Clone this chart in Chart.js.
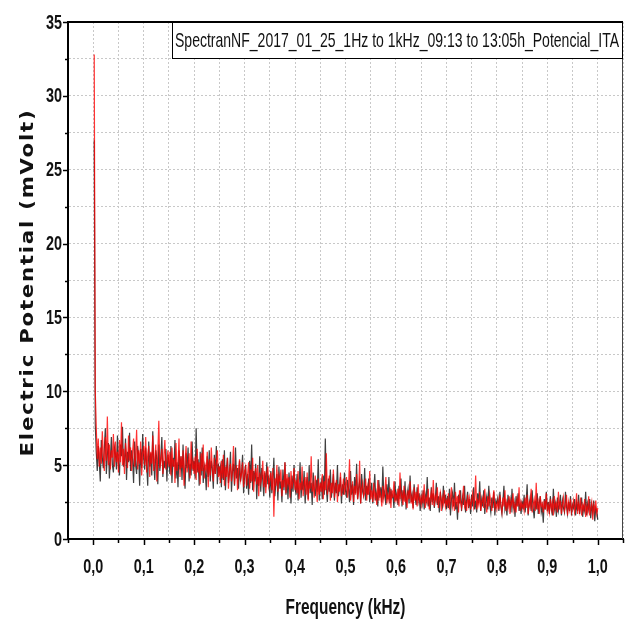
<!DOCTYPE html>
<html>
<head>
<meta charset="utf-8">
<script src="https://cdn.jsdelivr.net/npm/chart.js@4/dist/chart.umd.min.js"></script>
<style>
  body { margin: 0; background: #fff; }
</style>
</head>
<body>
<canvas id="spectrum-chart" width="628" height="624"></canvas>
<script>
// frequency grid of the spectrum: first bin and bin width, in kHz
const firstFreq = 0.002
const freqStep = 0.002

// red trace, mVolt (one row per 0.05 kHz)
const redValues = [
  32.8, 10.1, 7.6, 5.4, 6.8, 4.9, 6.2, 5.1, 7.3, 5.6, 4.6, 6.9, 5.3, 8.3, 5.0, 6.4, 4.7, 6.0, 5.5, 7.1, 4.9, 6.6, 5.2, 5.9, 4.5,
  6.7, 5.2, 7.9, 5.0, 6.1, 4.4, 6.5, 5.7, 4.8, 7.0, 5.3, 6.2, 4.6, 5.9, 6.8, 4.9, 5.5, 7.4, 4.7, 6.0, 5.1, 6.6, 4.3, 5.8, 6.3,
  5.0, 6.9, 4.5, 5.7, 6.3, 4.2, 5.9, 5.1, 7.0, 4.6, 5.5, 6.4, 3.9, 5.8, 8.0, 4.8, 5.3, 6.1, 4.4, 5.6, 6.7, 4.7, 5.2, 6.0, 4.9,
  5.9, 4.3, 6.2, 4.9, 5.4, 3.8, 6.5, 4.6, 5.1, 6.8, 4.2, 5.6, 4.8, 6.0, 3.6, 5.3, 6.3, 4.5, 5.0, 5.8, 4.1, 6.6, 4.7, 5.2, 4.4,
  5.6, 4.0, 6.1, 4.5, 5.2, 3.7, 5.8, 4.6, 6.4, 4.1, 5.0, 4.7, 5.9, 3.5, 5.4, 4.3, 6.2, 4.8, 3.9, 5.5, 4.4, 5.1, 6.0, 4.2, 4.9,
  3.8, 5.3, 4.1, 5.7, 3.6, 4.9, 4.2, 5.5, 3.4, 4.6, 5.1, 3.9, 4.8, 6.3, 3.7, 4.5, 5.0, 3.3, 4.7, 5.4, 4.0, 4.4, 5.2, 3.5, 4.6,
  4.9, 3.6, 4.4, 5.2, 3.4, 4.7, 3.9, 5.5, 3.2, 4.3, 4.8, 3.7, 5.0, 2.9, 4.5, 3.8, 4.2, 5.3, 3.5, 4.6, 3.1, 4.4, 4.9, 3.6, 4.0,
  4.5, 3.3, 4.8, 1.5, 4.1, 3.6, 5.0, 3.2, 4.3, 3.9, 4.7, 2.9, 4.0, 3.5, 5.2, 3.1, 4.4, 3.7, 4.2, 2.8, 4.6, 3.4, 3.9, 4.8, 3.3,
  4.0, 3.1, 4.6, 2.7, 3.8, 3.3, 4.9, 2.9, 3.6, 4.2, 3.0, 4.5, 2.6, 3.9, 3.4, 5.6, 3.2, 3.7, 2.8, 4.3, 3.5, 2.5, 4.1, 3.0, 3.8,
  3.2, 4.4, 2.7, 3.9, 3.3, 5.8, 3.0, 3.6, 4.3, 2.6, 3.8, 3.1, 4.7, 2.8, 3.5, 4.0, 2.5, 3.7, 3.2, 4.5, 2.9, 3.4, 4.1, 3.0, 3.6,
  4.2, 2.8, 3.5, 5.4, 2.6, 3.3, 3.9, 2.5, 3.6, 3.0, 4.4, 2.7, 3.2, 5.3, 2.4, 3.4, 3.8, 2.9, 3.1, 4.1, 2.6, 3.5, 3.0, 4.6, 2.7,
  3.3, 2.5, 3.8, 2.8, 3.1, 2.3, 4.0, 2.6, 3.4, 2.9, 2.2, 3.6, 2.7, 3.2, 4.2, 2.4, 3.0, 2.6, 3.5, 2.1, 3.3, 2.8, 3.9, 2.5, 3.0,
  2.6, 3.4, 2.2, 4.5, 2.8, 3.1, 2.3, 3.6, 2.5, 3.0, 2.1, 3.3, 2.7, 3.9, 2.4, 2.9, 2.0, 3.5, 2.6, 3.2, 2.2, 3.7, 2.5, 2.8, 2.3,
  3.0, 2.4, 3.7, 2.1, 2.8, 2.5, 3.4, 2.0, 2.7, 3.2, 2.3, 4.0, 2.2, 2.9, 2.6, 3.5, 2.1, 2.7, 3.1, 1.9, 2.8, 2.4, 3.3, 2.2, 2.6,
  2.3, 3.1, 2.0, 2.8, 3.5, 2.2, 2.6, 1.9, 3.2, 2.4, 2.9, 1.8, 3.3, 2.5, 2.1, 2.7, 3.6, 2.2, 2.5, 1.9, 3.0, 2.3, 2.8, 2.0, 2.6,
  3.1, 2.2, 2.7, 4.3, 2.0, 2.6, 2.3, 3.2, 1.9, 2.5, 2.8, 2.1, 3.4, 2.4, 1.8, 2.9, 2.2, 3.0, 2.5, 1.9, 2.7, 3.3, 2.1, 2.4, 2.0,
  2.6, 2.0, 3.0, 2.3, 1.8, 2.8, 2.2, 3.3, 1.9, 2.5, 2.1, 2.9, 1.7, 2.6, 2.3, 3.1, 2.0, 2.4, 1.8, 2.7, 2.2, 3.5, 1.9, 2.5, 2.1,
  2.4, 1.9, 2.8, 2.1, 3.0, 1.7, 2.5, 2.2, 3.4, 1.8, 2.3, 2.7, 1.9, 3.8, 2.0, 2.5, 1.7, 2.9, 2.2, 2.4, 1.8, 2.6, 2.0, 3.1, 1.9,
  2.3, 1.8, 2.7, 2.0, 2.5, 1.6, 2.9, 2.1, 2.4, 1.8, 3.2, 2.0, 2.6, 1.7, 2.3, 2.8, 1.9, 2.2, 3.0, 1.6, 2.5, 2.0, 2.7, 1.8, 2.2,
  2.6, 1.8, 2.2, 3.1, 1.7, 2.4, 1.9, 2.8, 1.6, 2.3, 2.0, 2.7, 1.5, 2.2, 1.8, 2.9, 1.6, 2.1, 2.5, 1.3, 2.3, 1.9, 2.6, 1.7, 2.1
]

// black trace, mVolt (one row per 0.05 kHz)
const blackValues = [
  27.0, 7.8, 5.9, 4.6, 6.3, 5.2, 3.9, 6.7, 5.5, 4.8, 6.1, 7.5, 4.4, 5.7, 6.5, 4.1, 5.4, 6.9, 5.0, 4.5, 6.2, 5.8, 4.7, 7.0, 5.1,
  4.3, 6.4, 5.6, 7.6, 4.9, 5.3, 6.8, 4.0, 5.9, 5.2, 7.2, 4.6, 6.0, 5.4, 3.8, 6.6, 5.0, 4.4, 6.3, 5.7, 3.6, 6.1, 4.8, 7.1, 5.5,
  4.7, 6.2, 5.0, 3.6, 6.6, 4.9, 5.8, 4.3, 7.3, 5.1, 4.0, 6.0, 5.4, 3.7, 6.4, 4.6, 5.6, 6.9, 4.2, 5.3, 4.8, 6.1, 3.9, 5.7, 5.2,
  4.4, 6.3, 3.8, 5.5, 4.9, 6.7, 4.1, 5.2, 3.5, 6.0, 4.7, 5.6, 4.0, 6.4, 4.5, 3.4, 5.8, 4.8, 6.2, 3.9, 5.1, 4.3, 6.6, 4.6, 5.3,
  4.1, 7.5, 4.5, 5.4, 3.6, 5.9, 4.3, 6.2, 3.8, 5.0, 4.6, 3.3, 5.6, 4.2, 6.0, 3.9, 5.3, 4.8, 3.4, 5.7, 4.4, 6.3, 3.7, 5.1, 4.5,
  4.9, 3.5, 5.4, 4.0, 6.0, 3.3, 4.7, 5.5, 3.8, 4.4, 5.9, 3.2, 4.6, 5.1, 3.6, 6.2, 4.1, 4.8, 3.4, 5.3, 3.9, 4.5, 5.7, 3.1, 4.3,
  5.0, 3.4, 4.4, 3.0, 5.3, 3.8, 6.4, 3.3, 4.6, 3.9, 5.1, 2.7, 4.2, 3.6, 5.6, 3.2, 4.8, 4.0, 2.9, 4.5, 3.5, 5.2, 3.7, 4.3, 2.8,
  4.6, 3.1, 4.0, 5.5, 2.9, 3.8, 4.4, 2.6, 4.9, 3.4, 3.9, 2.5, 4.7, 3.3, 5.2, 3.0, 4.1, 2.7, 4.5, 3.6, 2.4, 4.3, 3.2, 5.0, 3.5,
  3.0, 4.4, 2.6, 3.7, 5.2, 2.8, 3.9, 3.3, 4.6, 2.4, 3.6, 4.2, 2.7, 5.0, 3.1, 3.8, 2.3, 4.5, 3.4, 2.9, 4.0, 3.2, 5.4, 2.6, 3.5,
  3.9, 2.7, 4.3, 3.0, 6.8, 3.4, 2.5, 4.1, 3.2, 4.7, 2.8, 3.6, 4.4, 2.6, 3.8, 3.1, 5.0, 2.9, 3.5, 4.2, 2.4, 3.7, 3.0, 4.5, 3.3,
  2.8, 4.0, 3.4, 2.5, 4.6, 3.0, 3.7, 2.3, 4.2, 3.1, 5.1, 2.7, 3.5, 3.9, 2.4, 4.4, 3.2, 2.9, 4.8, 2.6, 3.6, 3.0, 4.1, 2.5, 3.3,
  3.8, 2.4, 3.3, 4.4, 2.6, 3.1, 2.2, 4.0, 2.8, 3.5, 2.5, 4.9, 2.9, 3.2, 2.3, 3.7, 2.7, 4.2, 2.4, 3.4, 2.8, 3.0, 2.1, 3.9, 2.6,
  3.1, 2.3, 3.6, 2.7, 4.1, 2.2, 3.3, 2.6, 3.9, 2.0, 2.9, 3.4, 2.4, 4.3, 2.5, 3.0, 2.1, 3.7, 2.8, 2.3, 3.5, 2.6, 3.1, 1.9, 2.9,
  2.4, 3.3, 2.0, 3.0, 2.6, 4.2, 2.2, 2.8, 1.9, 3.5, 2.5, 3.1, 2.1, 2.7, 3.8, 2.3, 2.9, 1.8, 3.2, 2.6, 2.2, 3.6, 2.4, 3.0, 2.0,
  2.9, 2.1, 3.4, 1.6, 2.7, 3.1, 2.2, 3.8, 2.0, 2.5, 1.3, 3.0, 2.4, 3.3, 1.9, 2.8, 2.3, 3.6, 1.8, 2.6, 3.2, 2.1, 2.7, 1.7, 3.0,
  2.2, 3.5, 2.0, 2.6, 1.8, 3.1, 2.4, 3.9, 1.9, 2.7, 2.2, 3.3, 1.7, 2.5, 2.9, 2.0, 3.6, 2.3, 1.8, 2.8, 2.1, 3.2, 1.6, 2.6, 2.4,
  2.8, 1.9, 3.2, 2.2, 1.7, 2.6, 3.6, 2.0, 2.4, 1.6, 3.0, 2.3, 2.7, 1.8, 3.4, 2.1, 2.5, 1.5, 2.9, 2.2, 3.1, 1.9, 2.4, 1.7, 2.6,
  2.0, 3.0, 1.8, 2.5, 3.7, 1.6, 2.3, 2.8, 1.9, 3.3, 2.1, 1.4, 2.6, 2.0, 3.1, 1.7, 2.4, 2.9, 1.8, 2.2, 1.1, 2.7, 2.0, 3.2, 1.9,
  2.5, 1.7, 2.9, 2.1, 1.6, 3.4, 2.0, 2.4, 1.5, 2.8, 1.9, 2.3, 3.0, 1.6, 2.6, 2.1, 1.8, 3.2, 2.2, 1.7, 2.5, 1.9, 2.9, 1.6, 2.3,
  2.1, 2.7, 1.6, 2.4, 1.9, 3.0, 1.7, 2.3, 2.8, 1.5, 2.2, 1.9, 3.2, 1.6, 2.4, 2.0, 2.7, 1.4, 2.3, 1.8, 2.6, 1.2, 2.1, 1.9, 1.3
]

// axis ranges and labelled ticks
const xRange = [-0.05, 1.05]
const yRange = [0, 35]
const xTickLabels = ['0,0', '0,1', '0,2', '0,3', '0,4', '0,5', '0,6', '0,7', '0,8', '0,9', '1,0']
const yTickLabels = ['0', '5', '10', '15', '20', '25', '30', '35']

const xTitle = 'Frequency (kHz)'
const yTitle = 'Electric Potential (mVolt)'
const legendText = 'SpectranNF_2017_01_25_1Hz to 1kHz_09:13 to 13:05h_Potencial_ITA'

const toPoints = values => values.map((v, i) => ({x: firstFreq + freqStep * i, y: v}))

// ticks every half step, only whole steps get labels
const isMajor = (value, step) => Math.abs(value / step - Math.round(value / step)) < 1e-6

// narrow text, like Arial Narrow, by squeezing Liberation Sans
const narrowText = (ctx, text, x, y, squeeze, align) => {
  ctx.save()
  ctx.translate(x, y)
  ctx.scale(squeeze, 1)
  ctx.textAlign = align
  ctx.fillText(text, 0, 0)
  ctx.restore()
}

// frame, tick marks, tick labels, axis titles and the legend box
const originPlugin = {
  id: 'originFrame',
  afterDraw(chart) {
    const {ctx, chartArea: area, scales: {x, y}} = chart
    ctx.save()
    ctx.strokeStyle = '#000'

    // top and right edges of the frame
    ctx.lineWidth = 2
    ctx.beginPath()
    ctx.moveTo(area.left - 1, area.top)
    ctx.lineTo(area.right, area.top)
    ctx.stroke()
    ctx.lineWidth = 1
    ctx.strokeStyle = '#444'
    ctx.beginPath()
    ctx.moveTo(area.right - 0.5, area.top)
    ctx.lineTo(area.right - 0.5, area.bottom)
    ctx.stroke()

    // tick marks outside the frame
    ctx.strokeStyle = '#000'
    ctx.lineWidth = 1.5
    x.ticks.forEach(t => {
      const px = Math.round(x.getPixelForValue(t.value)) + 0.5
      const len = isMajor(t.value, 0.1) ? 6 : 4
      ctx.beginPath()
      ctx.moveTo(px, area.bottom)
      ctx.lineTo(px, area.bottom + len)
      ctx.stroke()
    })
    y.ticks.forEach(t => {
      const py = Math.round(y.getPixelForValue(t.value)) + 0.5
      const len = isMajor(t.value, 5) ? 5 : 3
      ctx.beginPath()
      ctx.moveTo(area.left, py)
      ctx.lineTo(area.left - len, py)
      ctx.stroke()
    })

    // tick labels
    ctx.fillStyle = '#111'
    ctx.font = 'bold 20px "Liberation Sans", Arial, sans-serif'
    ctx.textBaseline = 'middle'
    x.ticks.forEach(t => {
      if (!isMajor(t.value, 0.1) || t.value < 0) return
      const label = xTickLabels[Math.round(t.value * 10)]
      narrowText(ctx, label, x.getPixelForValue(t.value), area.bottom + 28, 0.72, 'center')
    })
    y.ticks.forEach(t => {
      if (!isMajor(t.value, 5)) return
      const label = yTickLabels[Math.round(t.value / 5)]
      narrowText(ctx, label, area.left - 6, y.getPixelForValue(t.value) + 1, 0.72, 'right')
    })

    // x title
    ctx.font = 'bold 22px "Liberation Sans", Arial, sans-serif'
    narrowText(ctx, xTitle, (area.left + area.right) / 2, 608, 0.7, 'center')

    // y title, wide and spaced
    ctx.save()
    ctx.font = 'bold 18px "DejaVu Sans", sans-serif'
    ctx.letterSpacing = '1.5px'
    ctx.translate(28, (area.top + area.bottom) / 2 + 2)
    ctx.rotate(-Math.PI / 2)
    ctx.scale(1.18, 1)
    ctx.textAlign = 'center'
    ctx.fillText(yTitle, 0, 0)
    ctx.restore()

    // legend box in the top right corner
    const boxLeft = 172
    const boxHeight = 37
    ctx.fillStyle = '#fff'
    ctx.fillRect(boxLeft, area.top, area.right - boxLeft, boxHeight)
    ctx.lineWidth = 1
    ctx.strokeStyle = '#000'
    ctx.strokeRect(boxLeft + 0.5, area.top + 0.5, area.right - boxLeft - 1, boxHeight - 1)

    ctx.font = '21px "Liberation Sans", Arial, sans-serif'
    ctx.fillStyle = '#111'
    const textWidth = ctx.measureText(legendText).width
    const targetWidth = area.right - boxLeft - 7
    narrowText(ctx, legendText, boxLeft + 3, area.top + boxHeight / 2 + 1, targetWidth / textWidth, 'left')
    ctx.restore()
  }
}

new Chart(document.getElementById('spectrum-chart'), {
  type: 'line',
  data: {
    datasets: [
      {
        label: 'red',
        data: toPoints(redValues),
        borderColor: 'rgba(255, 0, 0, 0.8)',
        borderWidth: 1.2,
        pointRadius: 0,
        tension: 0,
      },
      {
        label: 'black',
        data: toPoints(blackValues),
        borderColor: 'rgba(0, 0, 0, 0.75)',
        borderWidth: 1.2,
        pointRadius: 0,
        tension: 0,
      }
    ]
  },
  options: {
    responsive: false,
    animation: false,
    devicePixelRatio: 1,
    layout: {
      padding: {top: 22, right: 5, left: 0, bottom: 0}
    },
    scales: {
      x: {
        type: 'linear',
        min: xRange[0],
        max: xRange[1],
        afterFit(scale) { scale.height = 85 },
        ticks: {stepSize: 0.05, autoSkip: false, display: false},
        grid: {color: '#c8c8c8', drawTicks: false},
        border: {color: '#000', width: 2, dash: [2, 2]},
      },
      y: {
        min: yRange[0],
        max: yRange[1],
        afterFit(scale) { scale.width = 68 },
        ticks: {stepSize: 2.5, autoSkip: false, display: false},
        grid: {color: '#c8c8c8', drawTicks: false},
        border: {color: '#000', width: 2, dash: [2, 2]},
      }
    },
    plugins: {
      legend: {display: false},
      tooltip: {enabled: false},
    }
  },
  plugins: [originPlugin]
})
</script>
</body>
</html>
